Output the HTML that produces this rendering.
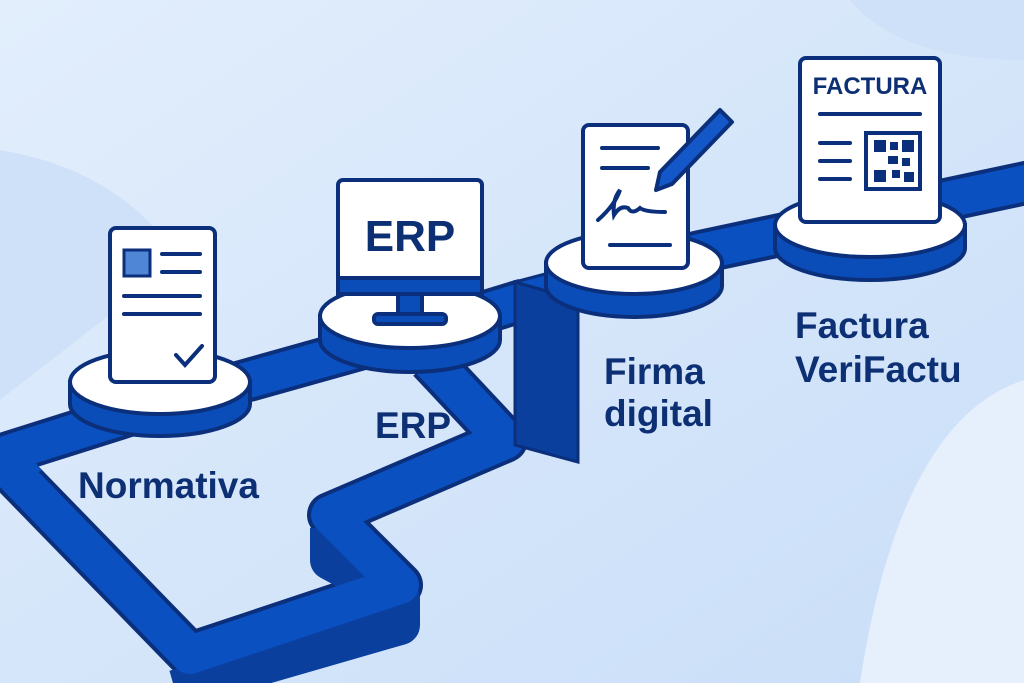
<!DOCTYPE html>
<html><head><meta charset="utf-8"><style>
html,body{margin:0;padding:0;width:1024px;height:683px;overflow:hidden;background:#d8e7fb}
svg{display:block}
text{font-family:"Liberation Sans",sans-serif;font-weight:bold;fill:#0d2f74}
</style></head><body>
<svg width="1024" height="683" viewBox="0 0 1024 683" xmlns="http://www.w3.org/2000/svg">
<defs>
<linearGradient id="bg" x1="0" y1="0" x2="1" y2="1">
<stop offset="0" stop-color="#e2eefc"/><stop offset="1" stop-color="#c9def8"/>
</linearGradient>
</defs>
<rect width="1024" height="683" fill="url(#bg)"/>
<path d="M0 150 Q120 170 180 260 L0 400 Z" fill="#cfe1f8"/>
<path d="M1024 380 Q900 420 860 683 L1024 683 Z" fill="#e6f0fd"/>
<path d="M850 0 Q900 60 1024 60 L1024 0 Z" fill="#cfe1f8"/>

<g fill="none" stroke-linejoin="round" stroke-linecap="butt">
<polyline points="-20,462 170,402 420,332 525,300" stroke="#0b2f7a" stroke-width="44"/>
<polyline points="560,285 700,252 1040,180" stroke="#0b2f7a" stroke-width="44"/>
<polyline points="430,360 505,440 330,515 400,585 190,655 10,470 30,455" stroke="#0b2f7a" stroke-width="46"/>
<polyline points="330,528 330,560 400,598 400,625 175,690" stroke="#0a3f9e" stroke-width="40"/>
<polyline points="430,360 505,440 330,515 400,585 190,655 10,470 30,455" stroke="#0b50c0" stroke-width="38"/>
<polyline points="-20,462 170,402 420,332 525,300" stroke="#0b50c0" stroke-width="36"/>
<polyline points="560,285 700,252 1040,180" stroke="#0b50c0" stroke-width="36"/>
</g>
<polygon points="515,282 578,300 578,462 515,445" fill="#0a3f9e" stroke="#0b2f7a" stroke-width="3"/>
<polygon points="515,282 560,270 620,285 578,300" fill="#0b50c0" stroke="#0b2f7a" stroke-width="3"/>

<g stroke="#0b2f7a" stroke-width="4">
<path d="M70 382 L70 404 A90 32 0 0 0 250 404 L250 382 Z" fill="#0a4db8"/>
<ellipse cx="160" cy="382" rx="90" ry="32" fill="#fff"/>
<path d="M320 316 L320 340 A90 32 0 0 0 500 340 L500 316 Z" fill="#0a4db8"/>
<ellipse cx="410" cy="316" rx="90" ry="32" fill="#fff"/>
<path d="M546 263 L546 286 A88 31 0 0 0 722 286 L722 263 Z" fill="#0a4db8"/>
<ellipse cx="634" cy="263" rx="88" ry="31" fill="#fff"/>
<path d="M775 225 L775 248 A95 32 0 0 0 965 248 L965 225 Z" fill="#0a4db8"/>
<ellipse cx="870" cy="225" rx="95" ry="32" fill="#fff"/>
</g>

<g stroke="#0b2f7a" stroke-width="4" stroke-linecap="round">
<rect x="110" y="228" width="105" height="154" rx="6" fill="#fff"/>
<rect x="124" y="250" width="26" height="26" fill="#4f86d6" stroke-width="3"/>
<line x1="162" y1="254" x2="200" y2="254"/><line x1="162" y1="272" x2="200" y2="272"/>
<line x1="124" y1="296" x2="200" y2="296"/><line x1="124" y1="314" x2="200" y2="314"/>
<polyline points="176,355 185,365 202,346" fill="none"/>
</g>
<g stroke="#0b2f7a" stroke-width="4">
<rect x="398" y="292" width="24" height="24" fill="#0a4db8"/>
<rect x="374" y="314" width="72" height="10" rx="4" fill="#0a4db8"/>
<rect x="338" y="180" width="144" height="114" rx="5" fill="#fff"/>
<rect x="338" y="278" width="144" height="16" fill="#0a4db8"/>
</g>
<text x="410" y="251" font-size="44" text-anchor="middle">ERP</text>
<g stroke="#0b2f7a" stroke-width="4" stroke-linecap="round" fill="none">
<rect x="583" y="125" width="105" height="143" rx="6" fill="#fff"/>
<line x1="602" y1="148" x2="658" y2="148"/><line x1="602" y1="168" x2="648" y2="168"/>
<line x1="610" y1="245" x2="670" y2="245"/>
<path d="M598 220 Q615 205 620 190 Q612 200 614 215 Q620 205 628 208 Q632 215 640 208 Q645 212 665 212"/>
</g>
<g stroke="#0b2f7a" stroke-width="4" stroke-linejoin="round">
<polygon points="660,172 720,110 732,122 672,184 656,190" fill="#1457c8"/>
</g>
<g stroke="#0b2f7a" stroke-width="4" stroke-linecap="round">
<rect x="800" y="58" width="140" height="164" rx="6" fill="#fff"/>
<line x1="820" y1="114" x2="920" y2="114"/>
<line x1="820" y1="143" x2="850" y2="143"/><line x1="820" y1="161" x2="850" y2="161"/><line x1="820" y1="179" x2="850" y2="179"/>
<rect x="866" y="133" width="54" height="56" fill="#fff"/>
</g>
<g fill="#0b2f7a">
<rect x="874" y="140" width="12" height="12"/><rect x="902" y="140" width="12" height="12"/><rect x="874" y="170" width="12" height="12"/>
<rect x="890" y="142" width="8" height="8"/><rect x="888" y="156" width="10" height="8"/><rect x="902" y="158" width="8" height="8"/>
<rect x="892" y="170" width="8" height="8"/><rect x="904" y="172" width="10" height="10"/>
</g>
<text x="870" y="94" font-size="24" text-anchor="middle">FACTURA</text>

<text x="78" y="498" font-size="37">Normativa</text>
<text x="375" y="438" font-size="37">ERP</text>
<text x="604" y="384" font-size="37">Firma</text>
<text x="604" y="426" font-size="37">digital</text>
<text x="795" y="338" font-size="37">Factura</text>
<text x="795" y="382" font-size="37">VeriFactu</text>
</svg>
</body></html>
